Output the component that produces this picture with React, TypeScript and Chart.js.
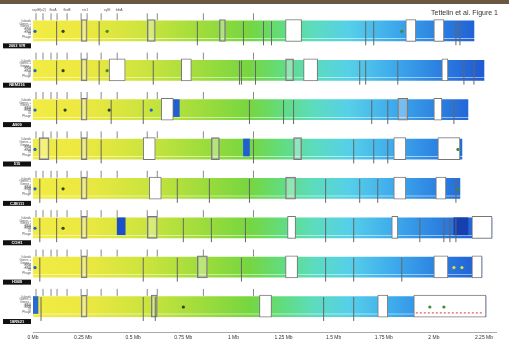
import React, { useEffect, useRef } from 'react';
import { Chart, registerables } from 'chart.js';

Chart.register(...registerables);

// ---------- data ----------
const titleText = 'Tettelin et al. Figure 1';
const trackNames = ['2603 V/R', 'NEM316', 'A909', '515', 'CJB111', 'COH1', 'H36B', '18RS21'];
const rowLabels = ['Islands', 'Genes +', 'Genes -', 'tRNA', 'rRNA', 'IS', 'Phage'];
const trackStarts = [0, 0, 0, 0, 0, 0, 0, 0];
const trackEnds = [2.2, 2.25, 2.17, 2.14, 2.13, 2.29, 2.24, 2.26];
const xTicks = [0, 0.25, 0.5, 0.75, 1, 1.25, 1.5, 1.75, 2, 2.25];

const geneLabelNames = ['scpB(x2)', 'fbsA', 'fbsB', 'srr1', 'cylE', 'bibA'];
const geneLabelPos = [0.03, 0.1, 0.17, 0.26, 0.37, 0.43];
const geneMarks = [0.015, 0.05, 0.09, 0.12, 0.17, 0.24, 0.27, 0.34, 0.42, 0.57, 0.62, 0.85, 1.1];

const islandBoxes: number[][][] = [
  [[1.26, 1.34], [1.86, 1.91], [2.0, 2.05]],
  [[0.38, 0.46], [0.74, 0.79], [1.35, 1.42], [2.04, 2.07]],
  [[0.64, 0.7], [2.0, 2.04]],
  [[0.55, 0.61], [1.8, 1.86], [2.02, 2.13]],
  [[0.58, 0.64], [1.8, 1.86], [2.01, 2.06]],
  [[1.27, 1.31], [1.79, 1.82], [2.19, 2.29]],
  [[1.26, 1.32], [2.0, 2.07], [2.19, 2.24]],
  [[1.13, 1.19], [1.72, 1.77], [1.9, 2.26]],
];
const outlineBoxes: number[][][] = [
  [[0.24, 0.27], [0.57, 0.61], [0.93, 0.96]],
  [[0.24, 0.27], [1.26, 1.3]],
  [[0.24, 0.27], [1.82, 1.87]],
  [[0.03, 0.08], [0.24, 0.27], [0.89, 0.93], [1.3, 1.34]],
  [[0.24, 0.27], [1.26, 1.31]],
  [[0.24, 0.27], [0.57, 0.62]],
  [[0.24, 0.27], [0.82, 0.87]],
  [[0.24, 0.27], [0.59, 0.62]],
];
const markerLines: number[][] = [
  [0.118, 0.33, 0.82, 1.05, 1.15, 1.19, 1.66, 1.7, 2.11, 2.13],
  [0.118, 0.33, 0.6, 1.03, 1.04, 1.11, 1.63, 1.66, 1.82, 2.15, 2.2],
  [0.118, 0.39, 0.55, 1.08, 1.25, 1.3, 1.69, 1.77, 2.1],
  [0.118, 0.34, 1.1, 1.6, 1.7, 1.77],
  [0.034, 0.118, 0.72, 0.88, 1.08, 1.46, 1.63, 1.72, 2.11],
  [0.034, 0.118, 0.75, 0.89, 1.06, 1.46, 1.6, 1.93, 2.05, 2.08, 2.11],
  [0.034, 0.55, 0.72, 1.04, 1.46, 1.6, 1.84],
  [0.04, 0.55, 0.61, 1.45, 1.6],
];
const blockTracks = [2, 3, 5, 5, 7];
const blockRanges = [[0.7, 0.73], [1.05, 1.08], [0.42, 0.46], [2.1, 2.17], [0, 0.025]];
const blockColors = ['#1f5fd0', '#1f5fd0', '#1c4fc8', '#1640b0', '#2a6ad0'];

const dotPalette = ['#1b64c8', '#33401a', '#3b8f2c', '#e2de3a'];
const dotTracks = [0, 0, 0, 0, 1, 1, 1, 2, 2, 2, 2, 3, 3, 4, 4, 4, 5, 5, 6, 6, 6, 7, 7, 7];
const dotPositions = [0.01, 0.15, 0.37, 1.84, 0.01, 0.15, 0.37, 0.01, 0.16, 0.38, 0.59, 0.01, 2.12, 0.01, 0.15, 2.12, 0.01, 0.15, 0.01, 2.1, 2.14, 0.75, 1.98, 2.05];
const dotColorIdx = [0, 1, 2, 2, 0, 1, 2, 0, 1, 1, 0, 0, 2, 0, 1, 2, 0, 1, 0, 3, 3, 1, 2, 2];

const redDashTrack = 7;
const redDashRange = [1.91, 2.24];

// ---------- style ----------
const gradStops: [number, string][] = [
  [0, '#f2ec44'],
  [0.12, '#ebe840'],
  [0.25, '#cbe43e'],
  [0.38, '#9cdc3c'],
  [0.48, '#76d640'],
  [0.55, '#62dc7c'],
  [0.62, '#5cdcbc'],
  [0.7, '#56d0e8'],
  [0.8, '#3eaaec'],
  [0.9, '#2c80e0'],
  [1, '#1e5ad4'],
];
const FONT = '"Liberation Sans", Arial, sans-serif';

function bandGradient(c: any) {
  const chart = c.chart;
  const xs = chart.scales && chart.scales.x;
  if (!xs) return '#8d4';
  const x0 = xs.getPixelForValue(0);
  const x1 = xs.getPixelForValue(2.25);
  if (!isFinite(x0) || !isFinite(x1) || x1 <= x0) return '#8d4';
  const g = chart.ctx.createLinearGradient(x0, 0, x1, 0);
  gradStops.forEach(([p, col]) => g.addColorStop(p, col));
  return g;
}

const textPlugin = {
  id: 'textPlugin',
  afterDraw(chart: any) {
    const ctx = chart.ctx;
    const xs = chart.scales.x;
    const ys = chart.scales.y;
    ctx.save();
    ctx.fillStyle = '#333';
    ctx.font = `7px ${FONT}`;
    ctx.textAlign = 'right';
    ctx.textBaseline = 'middle';
    ctx.fillText(titleText, 498, 13);

    trackNames.forEach((name, i) => {
      const cy = ys.getPixelForValue(i);
      ctx.fillStyle = '#555';
      ctx.font = `3px ${FONT}`;
      ctx.textAlign = 'right';
      rowLabels.forEach((r, k) => ctx.fillText(r, 31, cy - 8 + k * 2.6));
      ctx.fillStyle = '#111';
      ctx.fillRect(3, cy + 14, 28, 5);
      ctx.fillStyle = '#fff';
      ctx.font = `bold 4px ${FONT}`;
      ctx.textAlign = 'center';
      ctx.fillText(name, 17, cy + 16.6);
    });

    const y0 = ys.getPixelForValue(0);
    ctx.fillStyle = '#555';
    ctx.font = `3.5px ${FONT}`;
    ctx.textAlign = 'center';
    geneLabelNames.forEach((n, k) => {
      ctx.fillText(n, xs.getPixelForValue(geneLabelPos[k]), y0 - 19);
    });
    ctx.restore();
  },
};

export default function App() {
  const ref = useRef<HTMLCanvasElement | null>(null);

  useEffect(() => {
    document.body.style.margin = '0';
    const canvas = ref.current;
    if (!canvas) return;

    const bandData = trackEnds.map((e, i) => ({ x: [trackStarts[i], e], y: i }));
    const underData = trackEnds.map((e, i) => ({ x: [trackStarts[i], e], y: i + 0.27 }));
    const islandData: any[] = [];
    islandBoxes.forEach((list, i) => list.forEach((b) => islandData.push({ x: [b[0], b[1]], y: i + 0.03 })));
    const outlineData: any[] = [];
    outlineBoxes.forEach((list, i) => list.forEach((b) => outlineData.push({ x: [b[0], b[1]], y: i + 0.03 })));
    const lineData: any[] = [];
    markerLines.forEach((list, i) => list.forEach((p) => lineData.push({ x: p, y: i + 0.1 })));
    const markData: any[] = [];
    trackNames.forEach((_, i) => geneMarks.forEach((p) => markData.push({ x: p, y: i - 0.32 })));
    const blockData = blockTracks.map((t, k) => ({ x: blockRanges[k], y: t }));
    const dotData = dotTracks.map((t, k) => ({ x: dotPositions[k], y: t + 0.05 }));

    const chart = new Chart(canvas, {
      type: 'bar',
      data: {
        datasets: [
          {
            type: 'bar', indexAxis: 'y', grouped: false, barThickness: 17, order: 10,
            data: bandData as any, backgroundColor: bandGradient as any, borderWidth: 0,
          },
          {
            type: 'bar', indexAxis: 'y', grouped: false, barThickness: 2, order: 9,
            data: underData as any, backgroundColor: bandGradient as any, borderWidth: 0,
          },
          {
            type: 'bar', indexAxis: 'y', grouped: false, barThickness: 17, order: 8,
            data: blockData as any, backgroundColor: blockColors, borderWidth: 0,
          },
          {
            type: 'bar', indexAxis: 'y', grouped: false, barThickness: 22, order: 7,
            data: islandData, backgroundColor: '#ffffff', borderColor: '#777', borderWidth: 1, borderSkipped: false,
          },
          {
            type: 'bar', indexAxis: 'y', grouped: false, barThickness: 22, order: 6,
            data: outlineData, backgroundColor: 'rgba(255,255,255,0.3)', borderColor: '#777', borderWidth: 1, borderSkipped: false,
          },
          {
            type: 'scatter', order: 5, data: lineData,
            pointStyle: 'line', rotation: 90, pointRadius: 12, pointBorderColor: '#666', pointBorderWidth: 1,
          } as any,
          {
            type: 'scatter', order: 4, data: markData,
            pointStyle: 'line', rotation: 90, pointRadius: 3.5, pointBorderColor: '#888', pointBorderWidth: 1,
          } as any,
          {
            type: 'scatter', order: 3, data: dotData,
            pointRadius: 1.6, pointBackgroundColor: dotColorIdx.map((c) => dotPalette[c]), pointBorderWidth: 0,
          } as any,
          {
            type: 'line', order: 2,
            data: [{ x: redDashRange[0], y: redDashTrack + 0.2 }, { x: redDashRange[1], y: redDashTrack + 0.2 }],
            borderColor: '#d8402a', borderWidth: 1, borderDash: [2, 2], pointRadius: 0,
          } as any,
        ],
      },
      options: {
        animation: false,
        responsive: false,
        maintainAspectRatio: false,
        events: [],
        layout: { padding: { left: 33, right: 4, top: 5, bottom: 0 } },
        plugins: { legend: { display: false }, tooltip: { enabled: false } },
        scales: {
          x: {
            type: 'linear', min: 0, max: 2.31, offset: false,
            grid: { display: false, drawTicks: false, offset: false },
            border: { display: true, color: '#aaa', width: 1 },
            afterBuildTicks: (scale: any) => { scale.ticks = xTicks.map((v) => ({ value: v })); },
            ticks: {
              padding: 3, color: '#333', font: { size: 5, family: FONT },
              maxRotation: 0, autoSkip: false,
              callback: (v: any) => `${v} Mb`,
            },
          },
          y: { type: 'linear', min: -0.415, max: 7.685, reverse: true, display: false, offset: false, grid: { offset: false } },
        },
      },
      plugins: [textPlugin],
    });
    return () => chart.destroy();
  }, []);

  return (
    <div style={{ position: 'absolute', left: 0, top: 0, width: 509, height: 345, background: '#fff' }}>
      <div style={{ position: 'absolute', left: 0, top: 0, width: 509, height: 4, background: '#6a5842' }} />
      <canvas ref={ref} width={509} height={345} style={{ width: 509, height: 345, display: 'block' }} />
    </div>
  );
}
